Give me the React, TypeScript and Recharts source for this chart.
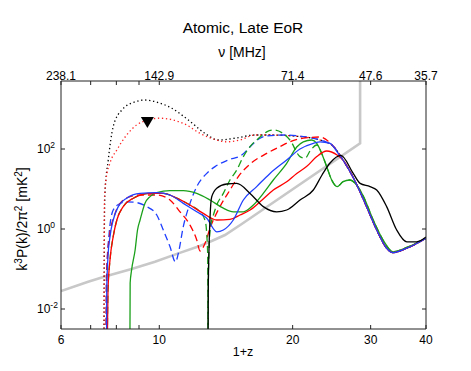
import React from 'react';
import { ComposedChart, Line, XAxis, YAxis, Scatter } from 'recharts';

const FONT = '"Liberation Sans", Arial, Helvetica, sans-serif';

// axis ticks (1+z) and labels
const xTicks = [6, 7, 8, 9, 10, 20, 30, 40];
const bottomTickLabels = ['6', '', '', '', '10', '20', '30', '40'];
const topTickLabels = ['238.1', '', '', '', '142.9', '71.4', '47.6', '35.7'];
const yTicks = [0.01, 1, 100];
const yTickExponents = ['-2', '0', '2'];

// series: [1+z, log10 of k^3P(k)/2pi^2]
const grayLimit = [
  [6, -1.55], [6.91, -1.32], [7.54, -1.19], [8.66, -1.0], [9.78, -0.82], [11.04, -0.61],
  [12.25, -0.44], [13.13, -0.3], [14.07, -0.15], [15.35, 0.125], [28.4, 2.14], [28.4, 4.5],
];

const blackDotted = [
  [7.5, -3.5], [7.52, 0.2], [7.54, 0.9], [7.67, 1.725], [7.87, 2.56], [8.23, 2.975], [8.82, 3.18],
  [9.28, 3.225], [9.95, 3.16], [10.67, 3.02], [11.63, 2.725], [12.68, 2.39], [13.59, 2.225],
  [14.83, 2.27], [16.45, 2.35], [17.78, 2.35], [20.78, 2.31], [23.06, 2.225], [24.67, 2.075],
  [25.98, 1.725], [27.36, 1.3], [28.4, 0.925], [29.39, 0.55], [30.96, -0.025], [32.6, -0.48],
  [33.7, -0.59], [36.2, -0.48], [40, -0.23],
];

const redDotted = [
  [7.5, -3.5], [7.51, -0.5], [7.52, 0.725], [7.58, 1.225], [7.74, 1.65], [8.02, 1.975], [8.44, 2.35],
  [8.89, 2.6], [9.44, 2.725], [10.04, 2.77], [10.75, 2.725], [11.53, 2.6], [12.36, 2.39], [13.24, 2.25],
  [14.2, 2.18], [15.21, 2.225], [16.45, 2.35], [17.78, 2.35], [20.78, 2.31], [23.06, 2.225],
  [24.67, 2.075], [25.98, 1.725], [27.36, 1.3], [28.4, 0.925], [29.39, 0.55], [30.96, -0.025],
  [32.6, -0.48], [33.7, -0.59], [36.2, -0.48], [40, -0.23],
];

const blueDashed = [
  [7.58, -3.5], [7.6, -1.275], [7.7, -0.15], [7.87, 0.475], [8.16, 0.64], [8.44, 0.68], [8.89, 0.66],
  [9.37, 0.56], [9.87, 0.35], [10.21, -0.025], [10.57, -0.44], [10.88, -0.825], [11.04, -0.61],
  [11.33, 0.06], [11.73, 0.64], [12.15, 1.06], [12.8, 1.39], [13.36, 1.56], [14.32, 1.725],
  [15.35, 1.85], [16.31, 2.14], [16.88, 2.27], [17.48, 2.325], [19.39, 2.35], [21.14, 2.31],
  [23.06, 2.225], [24.67, 2.075], [25.98, 1.725], [27.36, 1.3], [28.4, 0.925], [29.39, 0.55],
  [30.96, -0.025], [32.6, -0.48], [33.7, -0.59], [36.2, -0.48], [40, -0.23],
];

const redDashed = [
  [7.58, -3.5], [7.6, -1.275], [7.7, -0.275], [7.95, 0.39], [8.16, 0.64], [8.59, 0.81], [9.05, 0.85],
  [9.87, 0.85], [10.57, 0.725], [11.14, 0.43], [11.73, 0.1], [12.15, -0.275], [12.36, -0.55],
  [12.68, -0.36], [13.02, 0.02], [13.71, 0.56], [14.44, 0.975], [15.08, 1.31], [16.03, 1.625],
  [17.48, 1.89], [18.73, 2.06], [19.72, 2.18], [21.14, 2.27], [23.06, 2.3], [24.67, 2.075],
  [25.98, 1.725], [27.36, 1.3], [28.4, 0.925], [29.39, 0.55], [30.96, -0.025], [32.6, -0.48],
  [33.7, -0.59], [36.2, -0.48], [40, -0.23],
];

const greenDashedLow = [
  [7.62, -3.5], [7.66, -1.52], [7.74, -0.775], [7.87, -0.19], [8.02, 0.225], [8.29, 0.56], [8.74, 0.77],
  [9.53, 0.89], [10.21, 0.89], [10.95, 0.77], [11.73, 0.6], [12.3, 0.45], [12.7, 0.2], [12.86, -0.6],
  [12.88, -3.5],
];

const greenDashedHigh = [
  [12.88, -3.5], [12.9, -1.5], [12.95, -0.5], [13.05, 0.05], [13.25, 0.35], [13.48, 0.6], [13.95, 0.89],
  [14.44, 1.225], [14.96, 1.475], [15.48, 1.81], [16.03, 2.06], [16.88, 2.3], [17.48, 2.43],
  [18.09, 2.475], [18.9, 2.41], [19.72, 2.225], [20.78, 1.81], [21.33, 1.77], [21.9, 1.95], [22.67, 2.1],
  [23.26, 1.89], [23.87, 1.56], [24.5, 1.225], [25.2, 1.06], [25.98, 1.18], [26.9, 1.225],
  [27.9, 1.1], [28.9, 0.81], [30.4, 0.225], [32.0, -0.275], [33.7, -0.57], [36.2, -0.46], [40, -0.23],
];

const greenSolid = [
  [8.58, -3.5], [8.595, -1.35], [8.66, -1.025], [8.82, -0.525], [8.93, -0.025], [9.05, 0.225],
  [9.28, 0.64], [9.53, 0.81], [9.87, 0.91], [10.57, 0.96], [11.33, 0.96], [12.15, 0.89], [13.02, 0.725],
  [13.95, 0.52], [14.69, 0.43], [15.48, 0.43], [16.31, 0.6], [17.17, 0.89], [18.09, 1.225],
  [19.39, 1.64], [20.43, 2.05], [21.14, 2.18], [22.09, 2.225], [22.67, 2.14], [23.26, 1.89],
  [23.87, 1.56], [24.5, 1.225], [25.2, 1.06], [25.98, 1.18], [26.9, 1.225], [27.9, 1.1], [28.9, 0.81],
  [30.4, 0.225], [32.0, -0.275], [33.7, -0.57], [36.2, -0.46], [40, -0.23],
];

const redSolid = [
  [7.62, -3.5], [7.66, -1.52], [7.74, -0.775], [7.87, -0.19], [8.02, 0.225], [8.29, 0.56], [8.74, 0.77],
  [9.53, 0.89], [10.21, 0.89], [10.95, 0.77], [11.73, 0.6], [12.57, 0.39], [13.48, 0.225], [14.44, 0.24],
  [15.21, 0.35], [16.03, 0.475], [16.88, 0.68], [18.09, 0.975], [19.39, 1.18], [20.43, 1.39],
  [21.5, 1.56], [22.67, 1.81], [23.87, 1.95], [25.2, 1.85], [25.98, 1.725], [27.36, 1.3], [28.4, 0.925],
  [29.39, 0.55], [30.96, -0.025], [32.6, -0.48], [33.7, -0.59], [36.2, -0.48], [40, -0.23],
];

const blueSolid = [
  [7.6, -3.5], [7.61, -1.52], [7.66, -0.69], [7.74, -0.19], [7.87, 0.225], [8.08, 0.56], [8.44, 0.77],
  [9.05, 0.89], [9.87, 0.91], [10.57, 0.85], [11.33, 0.64], [12.15, 0.43], [12.8, 0.27], [13.48, -0.07],
  [13.95, -0.025], [14.69, 0.225], [15.48, 0.725], [16.59, 1.06], [17.78, 1.39], [19.39, 1.725],
  [20.78, 2.0], [22.27, 2.14], [23.06, 2.18], [24.29, 2.14], [25.2, 1.93], [25.98, 1.725], [27.36, 1.3],
  [28.4, 0.925], [29.39, 0.55], [30.96, -0.025], [32.6, -0.48], [33.7, -0.59], [36.2, -0.48], [40, -0.23],
];

const blackSolid = [
  [12.88, -3.5], [12.9, -1.5], [12.95, -0.5], [13.02, 0.3], [13.13, 0.8], [13.48, 1.02], [14.2, 1.125],
  [14.96, 1.14], [16.03, 0.89], [17.17, 0.56], [18.41, 0.43], [19.39, 0.475], [20.78, 0.725],
  [22.27, 0.975], [23.3, 1.35], [24.29, 1.65], [25.7, 1.84], [27.4, 1.39], [28.4, 1.14], [29.9, 1.06],
  [30.96, 0.975], [32.6, 0.56], [34.35, -0.025], [36.2, -0.32], [38.1, -0.32], [40, -0.2],
];

const markerPoint = [[9.4, 2.7]];

const toPoints = (arr: number[][]) => arr.map(([x, l]) => ({ x, y: Math.pow(10, l) }));

const Y_DOMAIN = [Math.pow(10, -2.5), Math.pow(10, 3.7)];

const LeftTick = (props: any) => {
  const { x, y, payload } = props;
  const exp = yTickExponents[yTicks.indexOf(payload.value)];
  return (
    <text x={x} y={y} dy={4} textAnchor="start" fontSize={12} fill="#000" fontFamily={FONT}>
      10<tspan dy={-5} fontSize={8.5}>{exp}</tspan>
    </text>
  );
};

const TriangleShape = (props: any) => {
  const { cx, cy } = props;
  if (cx == null || cy == null) return null;
  const pts = `${cx - 6.5},${cy - 4} ${cx + 6.5},${cy - 4} ${cx},${cy + 7}`;
  return <polygon points={pts} fill="#000" />;
};

const series = [
  { data: grayLimit, color: '#c8c8c8', width: 2.6, dash: undefined, type: 'linear' },
  { data: blackDotted, color: '#000000', width: 1.3, dash: '1.3 2.7', type: 'monotone' },
  { data: redDotted, color: '#ff2020', width: 1.3, dash: '1.3 2.7', type: 'monotone' },
  { data: blueDashed, color: '#1f3fff', width: 1.3, dash: '7 4', type: 'monotone' },
  { data: redDashed, color: '#ff0000', width: 1.3, dash: '7 4', type: 'monotone' },
  { data: greenDashedLow, color: '#1aa01a', width: 1.3, dash: '7 4', type: 'monotone' },
  { data: greenDashedHigh, color: '#1aa01a', width: 1.3, dash: '7 4', type: 'monotone' },
  { data: greenSolid, color: '#1aa01a', width: 1.3, dash: undefined, type: 'monotone' },
  { data: redSolid, color: '#ff0000', width: 1.3, dash: undefined, type: 'monotone' },
  { data: blueSolid, color: '#1f3fff', width: 1.3, dash: undefined, type: 'monotone' },
  { data: blackSolid, color: '#000000', width: 1.3, dash: undefined, type: 'monotone' },
];

export default function App() {
  const axisLine = { stroke: '#222', strokeWidth: 1 };
  const tickLine = { stroke: '#222', strokeWidth: 1 };
  return (
    <div style={{ position: 'absolute', left: 0, top: 0, width: 471, height: 371, background: '#fff' }}>
      <ComposedChart width={471} height={371} margin={{ top: 61, right: 35, bottom: 12, left: 11 }}>
        <XAxis
          xAxisId="bottom"
          dataKey="x"
          type="number"
          scale="log"
          domain={[6, 40]}
          allowDataOverflow
          ticks={xTicks}
          interval={0}
          orientation="bottom"
          height={30}
          tickSize={-4}
          tickMargin={10}
          axisLine={axisLine}
          tickLine={tickLine}
          tick={{ fill: '#000', fontSize: 12, fontFamily: FONT }}
          tickFormatter={(v: number) => bottomTickLabels[xTicks.indexOf(v)] ?? ''}
        />
        <XAxis
          xAxisId="top"
          dataKey="x"
          type="number"
          scale="log"
          domain={[6, 40]}
          allowDataOverflow
          ticks={xTicks}
          interval={0}
          orientation="top"
          height={20}
          tickSize={-4}
          tickMargin={5}
          axisLine={axisLine}
          tickLine={tickLine}
          tick={{ fill: '#000', fontSize: 12, fontFamily: FONT }}
          tickFormatter={(v: number) => topTickLabels[xTicks.indexOf(v)] ?? ''}
        />
        <YAxis
          yAxisId="left"
          dataKey="y"
          type="number"
          scale="log"
          domain={Y_DOMAIN}
          allowDataOverflow
          ticks={yTicks}
          interval={0}
          orientation="left"
          width={50}
          tickSize={-4}
          tickMargin={28}
          axisLine={axisLine}
          tickLine={tickLine}
          tick={<LeftTick />}
        />
        <YAxis
          yAxisId="right"
          dataKey="y"
          type="number"
          scale="log"
          domain={Y_DOMAIN}
          allowDataOverflow
          ticks={yTicks}
          interval={0}
          orientation="right"
          width={10}
          tickSize={-4}
          axisLine={axisLine}
          tickLine={tickLine}
          tickFormatter={() => ''}
        />
        {series.map((s, i) => (
          <Line
            key={i}
            xAxisId="bottom"
            yAxisId="left"
            data={toPoints(s.data)}
            dataKey="y"
            type={s.type as any}
            stroke={s.color}
            strokeWidth={s.width}
            strokeDasharray={s.dash}
            dot={false}
            activeDot={false}
            isAnimationActive={false}
          />
        ))}
        <Scatter
          xAxisId="bottom"
          yAxisId="left"
          data={toPoints(markerPoint)}
          dataKey="y"
          shape={<TriangleShape />}
          isAnimationActive={false}
        />
      </ComposedChart>
      <svg
        width={471}
        height={371}
        style={{ position: 'absolute', left: 0, top: 0, pointerEvents: 'none' }}
        fontFamily={FONT}
      >
        <text x={243} y={33} textAnchor="middle" fontSize={15.5} fill="#000">Atomic, Late EoR</text>
        <text x={242} y={57} textAnchor="middle" fontSize={14} fill="#000">ν [MHz]</text>
        <text x={243} y={356} textAnchor="middle" fontSize={12.5} fill="#000">1+z</text>
        <text transform="translate(27,219) rotate(-90)" textAnchor="middle" fontSize={14} fill="#000">
          k<tspan dy={-5} fontSize={10}>3</tspan>
          <tspan dy={5}>P(k)/2π</tspan>
          <tspan dy={-5} fontSize={10}>2</tspan>
          <tspan dy={5}> [mK</tspan>
          <tspan dy={-5} fontSize={10}>2</tspan>
          <tspan dy={5}>]</tspan>
        </text>
      </svg>
    </div>
  );
}
